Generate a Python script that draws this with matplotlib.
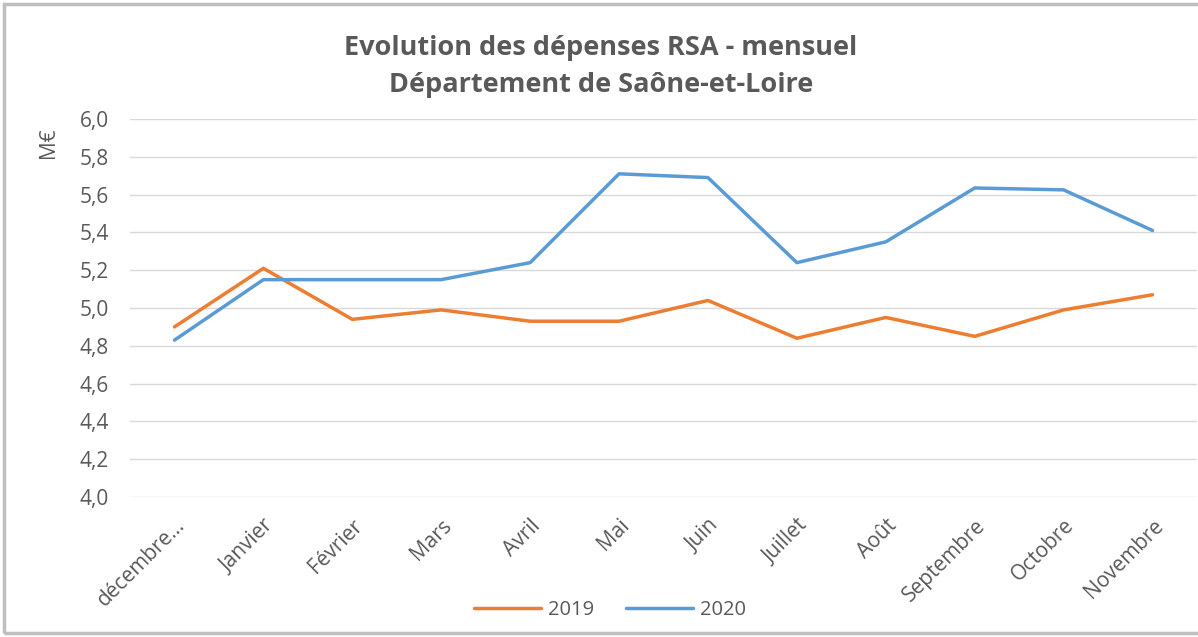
import matplotlib
matplotlib.use("Agg")
import matplotlib.pyplot as plt
from matplotlib.patches import Rectangle

months = ["décembre…", "Janvier", "Février", "Mars", "Avril", "Mai", "Juin",
          "Juillet", "Août", "Septembre", "Octobre", "Novembre"]
s2019 = [4.90, 5.21, 4.94, 4.99, 4.93, 4.93, 5.04, 4.84, 4.95, 4.85, 4.99, 5.07]
s2020 = [4.83, 5.15, 5.15, 5.15, 5.24, 5.71, 5.69, 5.24, 5.35, 5.635, 5.625, 5.41]
yticks = [4.0, 4.2, 4.4, 4.6, 4.8, 5.0, 5.2, 5.4, 5.6, 5.8, 6.0]
ytick_labels = ["4,0", "4,2", "4,4", "4,6", "4,8", "5,0", "5,2", "5,4", "5,6", "5,8", "6,0"]

W, H = 1198, 637
fig = plt.figure(figsize=(W / 100, H / 100), dpi=100)
plt.rcParams['font.family'] = ['Open Sans', 'DejaVu Sans']
gray = "#595959"

ax = fig.add_axes([130 / W, 1 - 497 / H, (1197 - 130) / W, (497 - 119) / H])
x = list(range(len(months)))
ax.plot(x, s2019, color="#ED7D31", lw=2.5, label="2019", solid_capstyle="round")
ax.plot(x, s2020, color="#5B9BD5", lw=2.5, label="2020", solid_capstyle="round")
ax.set_xlim(-0.5, len(months) - 0.5)
ax.set_ylim(4.0, 6.0)
ax.set_yticks(yticks)
ax.set_yticklabels(ytick_labels)
ax.set_xticks(x)
ax.set_xticklabels(months, rotation=45, ha="right", rotation_mode="anchor")
ax.tick_params(axis="both", length=0, colors=gray, labelsize=15)
ax.tick_params(axis="y", pad=15)
ax.tick_params(axis="x", pad=13)
ax.grid(axis="y", color="#D9D9D9", lw=1)
ax.set_axisbelow(True)
for s in ax.spines.values():
    s.set_visible(False)

fig.text(48 / W, 1 - 143 / H, "M€", rotation=90, ha="center", va="center",
         color=gray, fontsize=15)
fig.text(601 / W, 1 - 48 / H, "Evolution des dépenses RSA - mensuel",
         ha="center", va="center", color=gray, fontsize=19.5, fontweight="bold")
fig.text(601 / W, 1 - 85 / H, "Département de Saône-et-Loire",
         ha="center", va="center", color=gray, fontsize=19.5, fontweight="bold")

leg = fig.legend(loc="center", bbox_to_anchor=(610 / W, 1 - 610 / H), ncol=2,
                 frameon=False, fontsize=14.5, handlelength=3.3, columnspacing=1.6,
                 handletextpad=0.35)
for t in leg.get_texts():
    t.set_color(gray)

fig.patches.append(Rectangle((4 / W, 1 - 633 / H), 1.2, (633 - 4) / H,
                             transform=fig.transFigure, fill=False,
                             edgecolor="#BFBFBF", lw=2.5))

fig.savefig("out.png", dpi=100)
